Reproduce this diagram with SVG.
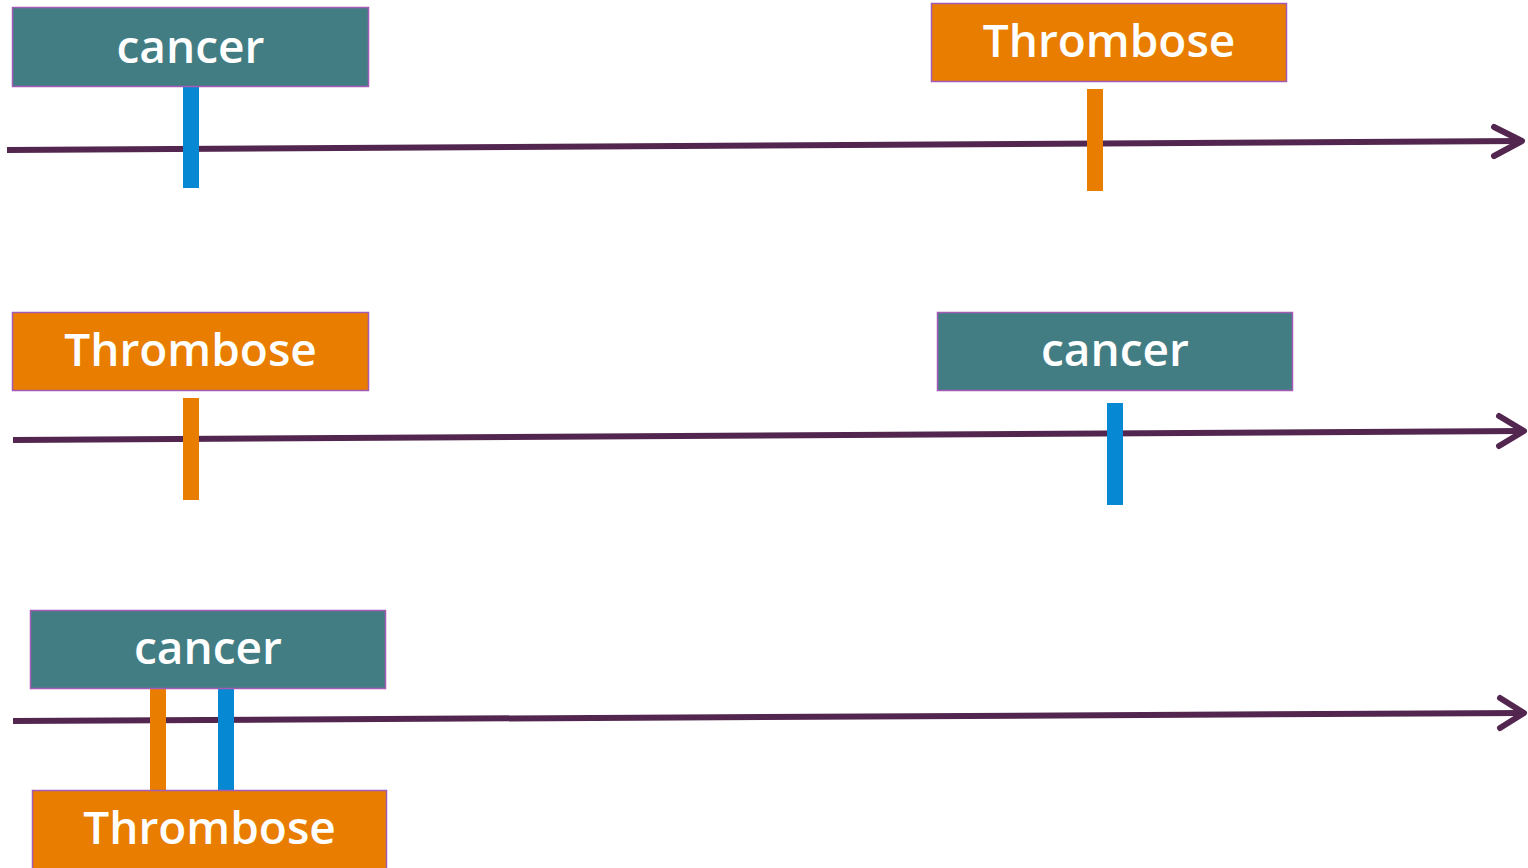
<svg xmlns="http://www.w3.org/2000/svg" width="1528" height="868" viewBox="0 0 1528 868">
<style>
.box{stroke:#A35BB5;stroke-width:1.5}
.c{fill:#437D84}
.t{fill:#E87D00}
.lbl{font-family:"Open Sans",sans-serif;font-weight:600;font-size:46px;fill:#fff;text-anchor:middle}
.axis{stroke:#52264F;stroke-width:6;fill:none}
.head{stroke:#52264F;stroke-width:6;fill:none;stroke-linecap:round;stroke-linejoin:round}
.bb{fill:#0788D2}
.ob{fill:#E87D00}
</style>
<rect width="1528" height="868" fill="#fff"/>
<g id="connectors">
<line class="axis" x1="7" y1="150" x2="1522" y2="141"/>
<polyline class="head" points="1494,127 1522,141 1494,156"/>
<line class="axis" x1="13" y1="440" x2="1524" y2="431"/>
<polyline class="head" points="1499,416 1524,431 1499,446"/>
<line class="axis" x1="13" y1="721" x2="1524" y2="713"/>
<polyline class="head" points="1500,698 1524,713 1500,728"/>
</g>
<g id="marks">
<rect class="bb" x="183" y="86" width="16" height="102"/>
<rect class="ob" x="1087" y="89" width="16" height="102"/>
<rect class="ob" x="183" y="398" width="16" height="102"/>
<rect class="bb" x="1107" y="403" width="16" height="102"/>
<rect class="ob" x="150" y="689" width="16" height="101"/>
<rect class="bb" x="218" y="689" width="16" height="101"/>
</g>
<g id="cancer1"><rect class="box c" x="12.5" y="7.5" width="356" height="79"/><text class="lbl" x="190.5" y="63">cancer</text></g>
<g id="thrombose1"><rect class="box t" x="931.5" y="3.5" width="355" height="78"/><text class="lbl" x="1109" y="57">Thrombose</text></g>
<g id="thrombose2"><rect class="box t" x="12.5" y="312.5" width="356" height="78"/><text class="lbl" x="190.5" y="366">Thrombose</text></g>
<g id="cancer2"><rect class="box c" x="937.5" y="312.5" width="355" height="78"/><text class="lbl" x="1115" y="366">cancer</text></g>
<g id="cancer3"><rect class="box c" x="30.5" y="610.5" width="355" height="78"/><text class="lbl" x="208" y="664">cancer</text></g>
<g id="thrombose3"><rect class="box t" x="32.5" y="790.5" width="354" height="80"/><text class="lbl" x="209.5" y="844">Thrombose</text></g>
</svg>
